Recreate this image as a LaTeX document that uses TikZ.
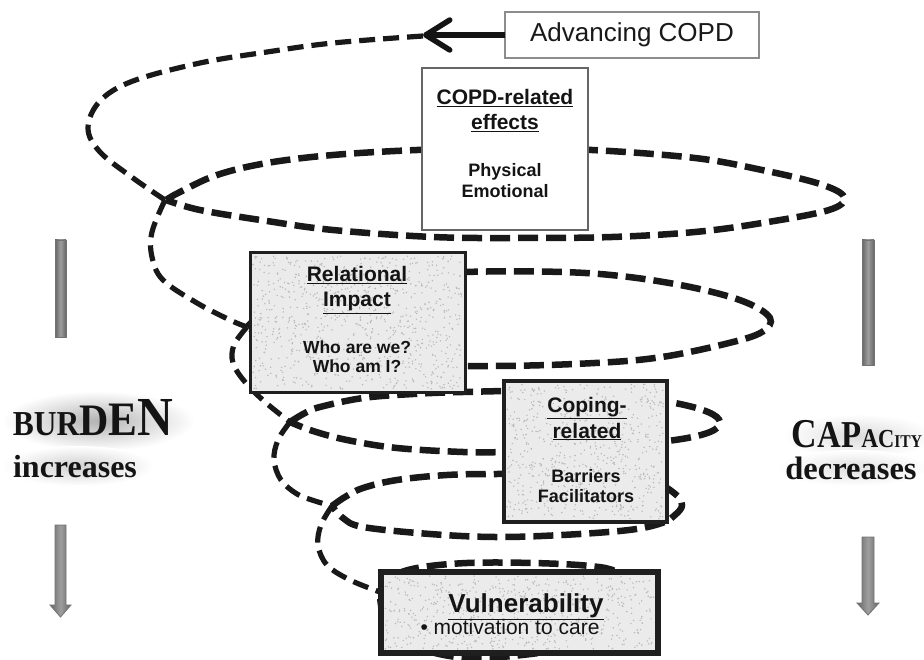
\documentclass[tikz,border=0pt]{standalone}
\usepackage{fontspec}
\usepackage{graphicx}
\setmainfont{Liberation Sans}
\newfontfamily\tnr{Liberation Serif}
\usetikzlibrary{arrows.meta}
\newcommand\mystipple[5]{%
  \foreach \k in {1,...,#5}{%
    \pgfmathsetmacro\rx{#1+rnd*(#3-#1)}%
    \pgfmathsetmacro\ry{#2+rnd*(#4-#2)}%
    \fill[stipdot] (\rx,\ry) circle (0.8pt);}}
\begin{document}
\begin{tikzpicture}[x=1pt,y=-1pt,
  spiral/.style={line width=6.5pt, dash pattern=on 20pt off 8pt, black!90},
  thinspiral/.style={line width=5.2pt, dash pattern=on 16pt off 8pt, black!90},
  advbox/.style={draw=black!45, line width=1.3pt, fill=white, inner sep=0pt, outer sep=0pt},
  copdbox/.style={draw=black!60, line width=1.6pt, fill=white, inner sep=0pt, outer sep=0pt},
  texbox/.style={draw=black!88, fill=black!8, inner sep=0pt, outer sep=0pt},
  stipdot/.style={fill=black!28},
  hdr/.style={font=\fontsize{21}{21}\selectfont\bfseries, anchor=base, inner sep=0pt, text=black!92},
  itm/.style={font=\fontsize{18}{18}\selectfont\bfseries, anchor=base, inner sep=0pt, text=black!92},
  grayar/.style={draw=black!55, line width=0.8pt, left color=black!60, right color=black!60, middle color=black!38},
  arrowline/.style={line width=5.5pt, black!92, -{Straight Barb[length=24pt,width=30pt,round]}},
  sidelbl/.style={anchor=base, inner sep=0pt, text=black!92}
]
\useasboundingbox (0,0) rectangle (924,660);
\fill[white] (0,0) rectangle (924,660);
\pgfmathsetseed{11}

% ---- spiral: connecting arcs on the left ----
\draw[thinspiral] plot[smooth,tension=0.6] coordinates {(423,36) (333,43) (267,52) (200,63) (133,81) (100,101) (88,128) (100,152) (133,178) (165,200)};
\draw[thinspiral] plot[smooth,tension=0.6] coordinates {(165,200) (152,232) (152,257) (163,280) (197,303) (230,320) (247,327)};
\draw[thinspiral] plot[smooth,tension=0.6] coordinates {(247,327) (234,345) (233,363) (245,382) (265,402) (290,422)};
\draw[thinspiral] plot[smooth,tension=0.6] coordinates {(290,422) (278,440) (274,460) (281,480) (297,494) (315,501) (332,506)};
\draw[thinspiral] plot[smooth,tension=0.6] coordinates {(332,506) (321,525) (318,545) (327,565) (350,580) (380,592)};

% ---- spiral: loops ----
\draw[spiral] plot[smooth,tension=0.6] coordinates {(166,200) (180,192) (217,175) (267,163) (333,155) (417,150) (500,148) (592,150) (695,158) (762,170) (820,184) (844,197) (829,210) (762,223) (695,232) (612,237) (520,238) (433,237) (333,230) (267,221) (200,210) (166,200)};
\draw[spiral] plot[smooth,tension=0.6] coordinates {(247,327) (290,295) (370,278) (465,272) (562,272) (629,277) (695,288) (745,302) (770,318) (762,332) (729,343) (662,357) (595,363) (495,366) (380,364) (300,352) (247,327)};
\draw[spiral] plot[smooth,tension=0.6] coordinates {(290,422) (305,413) (320,407) (363,398) (413,394) (463,392) (540,391) (620,395) (675,403) (708,412) (720,422) (710,432) (675,440) (600,448) (503,452) (463,452) (397,448) (347,440) (313,431) (290,422)};
\draw[spiral] plot[smooth,tension=0.6] coordinates {(332,506) (345,497) (363,488) (397,480) (447,475) (497,474) (580,474) (650,482) (674,493) (682,505) (675,515) (662,523) (629,530) (562,535) (495,537) (430,534) (363,527) (343,518) (332,506)};
\draw[spiral] plot[smooth,tension=0.6] coordinates {(380,592) (392,577) (417,568) (467,563) (533,563) (590,566) (617,572) (640,590) (645,612) (620,635) (560,650) (470,658) (410,645) (386,625) (381,605) (380,592)};

% ---- Advancing COPD ----
\node[advbox, minimum width=254pt, minimum height=46pt, anchor=north west,
      font=\fontsize{26}{26}\selectfont, text=black!90] (adv) at (505,12) {Advancing COPD};
\coordinate (tip) at (423,35);
\draw[arrowline] (adv.west) -- (tip);

% ---- COPD-related effects ----
\node[copdbox, minimum width=166pt, minimum height=162pt, anchor=north west] (copd) at (422,68) {};
\node[hdr] (c1) at (505,105) {\underline{COPD-related}};
\node[hdr] (c2) at (505,130) {\underline{effects}};
\node[itm] (c3) at (505,177) {Physical};
\node[itm] (c4) at (505,198) {Emotional};

% ---- Relational Impact ----
\node[texbox, line width=3pt, minimum width=215pt, minimum height=139pt, anchor=north west] (rel) at (250,253) {};
\mystipple{253}{256}{462}{389}{850}
\node[hdr] (r1) at (357,282) {\underline{Relational}};
\node[hdr] (r2) at (357,307) {\underline{Impact}};
\node[itm, font=\fontsize{17.5}{17.5}\selectfont\bfseries] (r3) at (357,353) {Who are we?};
\node[itm, font=\fontsize{17.5}{17.5}\selectfont\bfseries] (r4) at (357,373) {Who am I?};

% ---- Coping-related ----
\node[texbox, line width=4pt, minimum width=163pt, minimum height=141pt, anchor=north west] (cop) at (504,381) {};
\mystipple{507}{384}{664}{519}{650}
\node[hdr] (k1) at (587,412) {\underline{Coping-}};
\node[hdr] (k2) at (587,438) {\underline{related}};
\node[itm] (k3) at (586,482) {Barriers};
\node[itm] (k4) at (586,502) {Facilitators};

% ---- Vulnerability ----
\node[texbox, line width=5.5pt, minimum width=277pt, minimum height=81pt, anchor=north west] (vul) at (381,572) {};
\mystipple{385}{576}{654}{649}{620}
\node[font=\fontsize{26}{26}\selectfont\bfseries, anchor=base, inner sep=0pt, text=black!92] (v1) at (526,612) {\underline{Vulnerability}};
\node[font=\fontsize{21}{21}\selectfont, anchor=base, inner sep=0pt, text=black!92] (v2) at (510,634) {• motivation to care};

% ---- gray arrows ----
\shadedraw[grayar] (55,240) rectangle (66,337);
\shadedraw[grayar] (55,525) -- (66,525) -- (66,605) -- (71,605) -- (60.5,617) -- (50,605) -- (55,605) -- cycle;
\shadedraw[grayar] (862,240) rectangle (874,365);
\shadedraw[grayar] (862,537) -- (874,537) -- (874,603) -- (879,603) -- (868,615) -- (857,603) -- (862,603) -- cycle;

% ---- side labels with soft haze ----
\shade[inner color=black!30, outer color=white] (98,421) ellipse (96pt and 30pt);
\shade[inner color=black!18, outer color=white] (78,466) ellipse (76pt and 20pt);
\shade[inner color=black!14, outer color=white] (859,436) ellipse (76pt and 22pt);
\shade[inner color=black!12, outer color=white] (853,468) ellipse (76pt and 18pt);
\node[sidelbl] (burden) at (93,435) {\tnr\bfseries\scalebox{0.9}[1]{{\fontsize{35}{35}\selectfont BUR}{\fontsize{45}{45}\selectfont D}{\fontsize{48}{48}\selectfont E}{\fontsize{55}{55}\selectfont N}}};
\node[sidelbl] (incr) at (75,477) {\tnr\bfseries\fontsize{32}{32}\selectfont increases};
\node[sidelbl] (capac) at (857,447) {\tnr\bfseries\scalebox{0.864}[1]{{\fontsize{41}{41}\selectfont C}{\fontsize{38}{38}\selectfont AP}{\fontsize{27}{27}\selectfont A}{\fontsize{26}{26}\selectfont C}{\fontsize{18}{18}\selectfont ITY}}};
\node[sidelbl] (decr) at (851,479) {\tnr\bfseries\fontsize{32.5}{32.5}\selectfont decreases};
\end{tikzpicture}
\end{document}
